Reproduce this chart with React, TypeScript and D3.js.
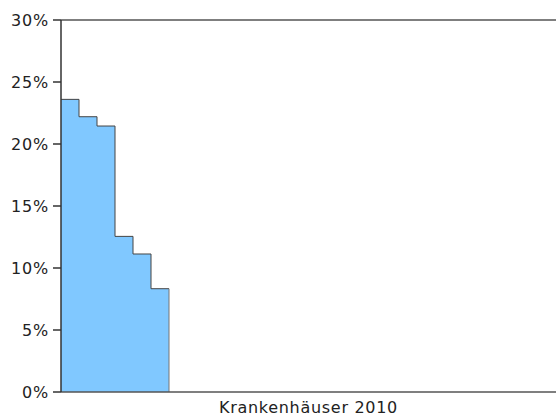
import React from "react";
import * as d3 from "d3";

const categories = ["1", "2", "3", "4", "5", "6"];
const values = [23.6, 22.2, 21.45, 12.55, 11.13, 8.33];
const yTicks = [0, 5, 10, 15, 20, 25, 30];
const xTitle = "Krankenhäuser 2010";
const slotCount = 27.5;

export default function App() {
  const W = 556, H = 419;
  const m = { l: 61, r: 0, t: 20, b: 27 };
  const x = d3.scaleLinear().domain([0, slotCount]).range([m.l, W - m.r]);
  const y = d3.scaleLinear().domain([0, 30]).range([H - m.b, m.t]);
  const pts: [number, number][] = values.map((v, i) => [i, v]);
  pts.push([values.length, values[values.length - 1]]);
  const area = d3
    .area<[number, number]>()
    .curve(d3.curveStepAfter)
    .x((d) => x(d[0]))
    .y0(y(0))
    .y1((d) => y(d[1]));
  const line = d3
    .line<[number, number]>()
    .curve(d3.curveStepAfter)
    .x((d) => x(d[0]))
    .y((d) => y(d[1]));
  const lineV = d3
    .line<[number, number]>()
    .x((d) => x(d[0]))
    .y((d) => y(d[1]));
  return (
    <svg
      width={W}
      height={H}
      style={{ position: "absolute", left: 0, top: 0, fontFamily: "DejaVu Sans, Verdana, sans-serif" }}
    >
      <path d={area(pts) || ""} fill="#80c8ff" />
      <path d={line(pts) || ""} fill="none" stroke="#444" strokeWidth={1} />
      <path
        d={lineV([[values.length, values[values.length - 1]], [values.length, 0]]) || ""}
        fill="none"
        stroke="#777"
        strokeWidth={1}
      />
      <line x1={x(0)} x2={W} y1={y(30)} y2={y(30)} stroke="#555" strokeWidth={1.5} />
      <line x1={x(0)} x2={W} y1={y(0)} y2={y(0)} stroke="#555" strokeWidth={1.5} />
      <line x1={x(0)} x2={x(0)} y1={y(30)} y2={y(0)} stroke="#333" strokeWidth={1.5} />
      {yTicks.map((t) => (
        <g key={t}>
          <line x1={x(0) - 8} x2={x(0)} y1={y(t)} y2={y(t)} stroke="#333" strokeWidth={1.5} />
          <text x={x(0) - 12} y={y(t)} dy="0.36em" textAnchor="end" fontSize={16} letterSpacing={0.8} fill="#222">
            {t}%
          </text>
        </g>
      ))}
      <text x={(x(0) + W) / 2} y={H - 6} textAnchor="middle" fontSize={16} letterSpacing={0.7} fill="#222">
        {xTitle}
      </text>
    </svg>
  );
}
